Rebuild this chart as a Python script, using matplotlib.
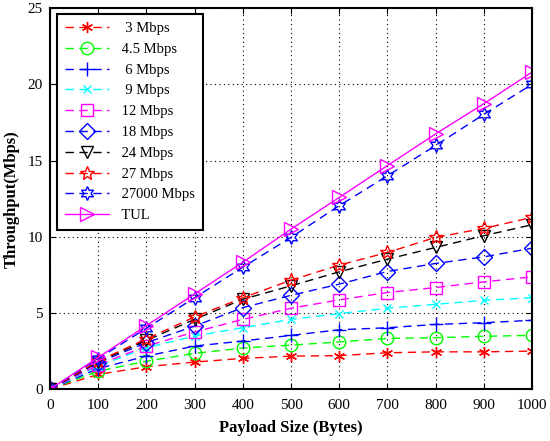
import matplotlib
matplotlib.use("Agg")
import matplotlib.pyplot as plt

plt.rcParams['font.family'] = ['Liberation Serif', 'DejaVu Serif']

payload = [0, 100, 200, 300, 400, 500, 600, 700, 800, 900, 1000]

labels = ['  3 Mbps', ' 4.5 Mbps', '  6 Mbps', '  9 Mbps', ' 12 Mbps', ' 18 Mbps',
          ' 24 Mbps', ' 27 Mbps', ' 27000 Mbps', ' TUL']

tp_3 = [0, 0.97, 1.47, 1.78, 2.02, 2.17, 2.2, 2.39, 2.45, 2.45, 2.5]
tp_4_5 = [0, 1.18, 1.84, 2.35, 2.7, 2.89, 3.1, 3.33, 3.38, 3.47, 3.53]
tp_6 = [0, 1.35, 2.17, 2.83, 3.16, 3.53, 3.9, 4.03, 4.25, 4.36, 4.52]
tp_9 = [0, 1.5, 2.72, 3.49, 4.03, 4.58, 4.96, 5.31, 5.57, 5.83, 6.0]
tp_12 = [0, 1.6, 2.83, 3.75, 4.58, 5.31, 5.86, 6.34, 6.67, 7.04, 7.37]
tp_18 = [0, 1.75, 3.05, 4.14, 5.35, 6.16, 6.89, 7.72, 8.25, 8.68, 9.25]
tp_24 = [0, 1.8, 3.2, 4.58, 5.9, 6.78, 7.7, 8.53, 9.3, 10.07, 10.79]
tp_27 = [0, 1.85, 3.3, 4.74, 6.0, 7.15, 8.14, 8.97, 9.96, 10.55, 11.27]
tp_27000 = [0, 2.0, 4.0, 6.0, 8.0, 9.96, 12.04, 14.0, 15.99, 18.03, 20.0]
tp_tul = [0, 2.08, 4.17, 6.25, 8.33, 10.5, 12.58, 14.67, 16.75, 18.73, 20.8]

series = [tp_3, tp_4_5, tp_6, tp_9, tp_12, tp_18, tp_24, tp_27, tp_27000, tp_tul]
colors = ['#ff0000', '#00ff00', '#0000ff', '#00ffff', '#ff00ff', '#0000ff',
          '#000000', '#ff0000', '#0000ff', '#ff00ff']
markers = [(6, 2, 0), 'o', '+', 'x', 's', 'D', 'v', '*', (6, 1, 0), '>']
msizes = [8, 9, 10, 5.5, 8, 8, 9, 10, 10, 10]
styles = ['--'] * 9 + ['-']

fig = plt.figure(figsize=(5.5, 4.41), dpi=100)
ax = fig.add_axes([0.0909, 0.1175, 0.8764, 0.864])

for y, lab, c, m, ms, ls in zip(series, labels, colors, markers, msizes, styles):
    ax.plot(payload, y, linestyle=ls, color=c, marker=m, markersize=ms,
            markerfacecolor='none', markeredgecolor=c, markeredgewidth=1.0,
            linewidth=1.0, label=lab, dashes=(6, 4) if ls == '--' else (None, None))

ax.set_xlim(0, 1000)
ax.set_ylim(0, 25)
ax.set_xticks(range(0, 1001, 100))
ax.set_yticks(range(0, 26, 5))
ax.grid(True, linestyle=(0, (1, 3)), color='black', linewidth=0.8)
ax.tick_params(direction='in', top=True, right=True, labelsize=11, length=4)
ax.tick_params(axis='x', pad=7)
ax.tick_params(axis='y', pad=5)
for s in ax.spines.values():
    s.set_linewidth(1.5)
ax.set_xlabel('Payload Size (Bytes)', fontsize=12, fontweight='bold', labelpad=6)
ax.set_ylabel('Throughput(Mbps)', fontsize=12, fontweight='bold', labelpad=6)

leg = ax.legend(loc='upper left', fontsize=10.5, frameon=True, fancybox=False,
                edgecolor='black', framealpha=1, handlelength=3.0,
                borderpad=0.55, labelspacing=0.52, handletextpad=0.6,
                borderaxespad=0, bbox_to_anchor=(0.015, 0.985))
leg.get_frame().set_linewidth(1.5)

fig.savefig('out.png', dpi=100)
